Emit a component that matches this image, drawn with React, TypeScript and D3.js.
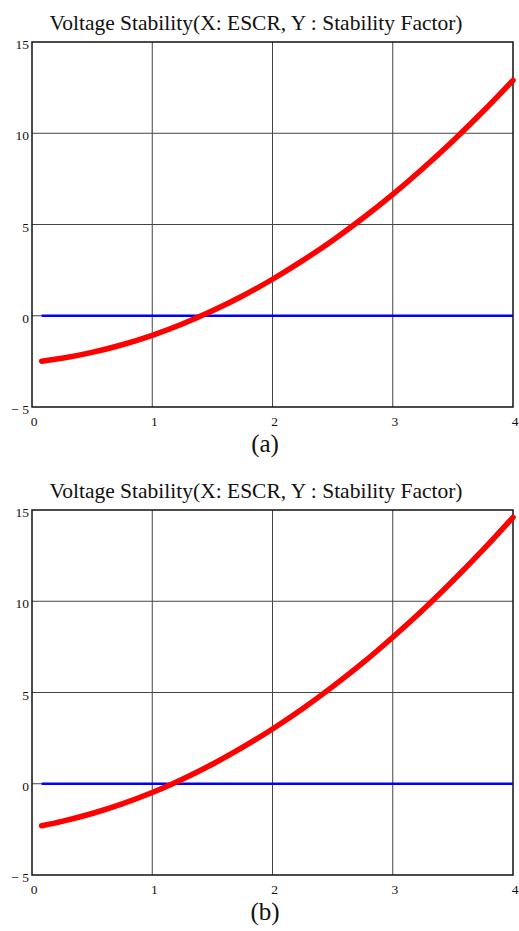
import { useEffect, useRef } from 'react';
import * as d3 from 'd3';

const xTicks = [0, 1, 2, 3, 4];
const yTicks = [-5, 0, 5, 10, 15];
const yTickLabels = ['\u2212 5', '0', '5', '10', '15'];

const escr = [0.08, 0.25, 0.5, 0.75, 1, 1.25, 1.5, 1.75, 2, 2.25, 2.5, 2.75, 3, 3.25, 3.5, 3.75, 4];
const stabilityA = [-2.49, -2.33, -2.01, -1.59, -1.07, -0.45, 0.27, 1.08, 2.0, 3.02, 4.13, 5.34, 6.65, 8.07, 9.58, 11.19, 12.9];
const stabilityB = [-2.3, -2.06, -1.63, -1.1, -0.48, 0.25, 1.07, 1.99, 3.0, 4.11, 5.32, 6.62, 8.03, 9.52, 11.12, 12.81, 14.6];
const baseline = [0, 0];
const baselineX = [0.08, 4];

const title = 'Voltage Stability(X: ESCR, Y : Stability Factor)';
const panels = [
  { caption: '(a)', values: stabilityA, top: 42 },
  { caption: '(b)', values: stabilityB, top: 510 },
];

const W = 519;
const H = 931;

export default function App() {
  const svgRef = useRef<SVGSVGElement>(null);

  useEffect(() => {
    if (!svgRef.current) return;
    const svg = d3.select(svgRef.current);
    svg.selectAll('*').remove();

    const left = 32;
    const right = 513;
    const plotH = 365;
    const font = "'Liberation Serif', 'Times New Roman', serif";

    panels.forEach(p => {
      const x = d3.scaleLinear().domain([0, 4]).range([left, right]);
      const y = d3.scaleLinear().domain([-5, 15]).range([p.top + plotH, p.top]);
      const g = svg.append('g').style('font-family', font).attr('fill', '#111');

      g.append('text')
        .attr('x', 256)
        .attr('y', p.top - 12)
        .attr('text-anchor', 'middle')
        .attr('font-size', 21.5)
        .text(title);

      // grid
      g.selectAll('line.vg')
        .data(xTicks.slice(1, -1))
        .enter()
        .append('line')
        .attr('x1', d => x(d))
        .attr('x2', d => x(d))
        .attr('y1', y(-5))
        .attr('y2', y(15))
        .attr('stroke', '#444')
        .attr('stroke-width', 1);
      g.selectAll('line.hg')
        .data(yTicks.slice(1, -1))
        .enter()
        .append('line')
        .attr('x1', x(0))
        .attr('x2', x(4))
        .attr('y1', d => y(d))
        .attr('y2', d => y(d))
        .attr('stroke', '#444')
        .attr('stroke-width', 1);

      g.append('rect')
        .attr('x', x(0))
        .attr('y', y(15))
        .attr('width', x(4) - x(0))
        .attr('height', y(-5) - y(15))
        .attr('fill', 'none')
        .attr('stroke', '#111')
        .attr('stroke-width', 1.5);

      // tick labels
      g.selectAll('text.xt')
        .data(xTicks)
        .enter()
        .append('text')
        .attr('x', d => x(d) + 2)
        .attr('y', y(-5) + 19)
        .attr('text-anchor', 'middle')
        .attr('font-size', 13.5)
        .text(d => String(d));
      g.selectAll('text.yt')
        .data(yTicks)
        .enter()
        .append('text')
        .attr('x', 29)
        .attr('y', d => y(d) + 7)
        .attr('text-anchor', 'end')
        .attr('font-size', 13.5)
        .text((_, i) => yTickLabels[i]);

      const line = d3.line<number>()
        .x((_, i) => x(escr[i]))
        .y(d => y(d))
        .curve(d3.curveMonotoneX);

      g.append('path')
        .attr('d', d3.line<number>().x((_, i) => x(baselineX[i])).y(d => y(d))(baseline))
        .attr('stroke', '#0000ff')
        .attr('stroke-width', 2.5)
        .attr('fill', 'none');

      g.append('path')
        .attr('d', line(p.values))
        .attr('stroke', '#ff0000')
        .attr('stroke-width', 5.5)
        .attr('stroke-linecap', 'round')
        .attr('fill', 'none');

      g.append('text')
        .attr('x', 265)
        .attr('y', p.top + plotH + 45)
        .attr('text-anchor', 'middle')
        .attr('font-size', 25)
        .text(p.caption);
    });
  }, []);

  return (
    <svg
      ref={svgRef}
      width={W}
      height={H}
      style={{ position: 'absolute', left: 0, top: 0, background: '#fff' }}
    ></svg>
  );
}
